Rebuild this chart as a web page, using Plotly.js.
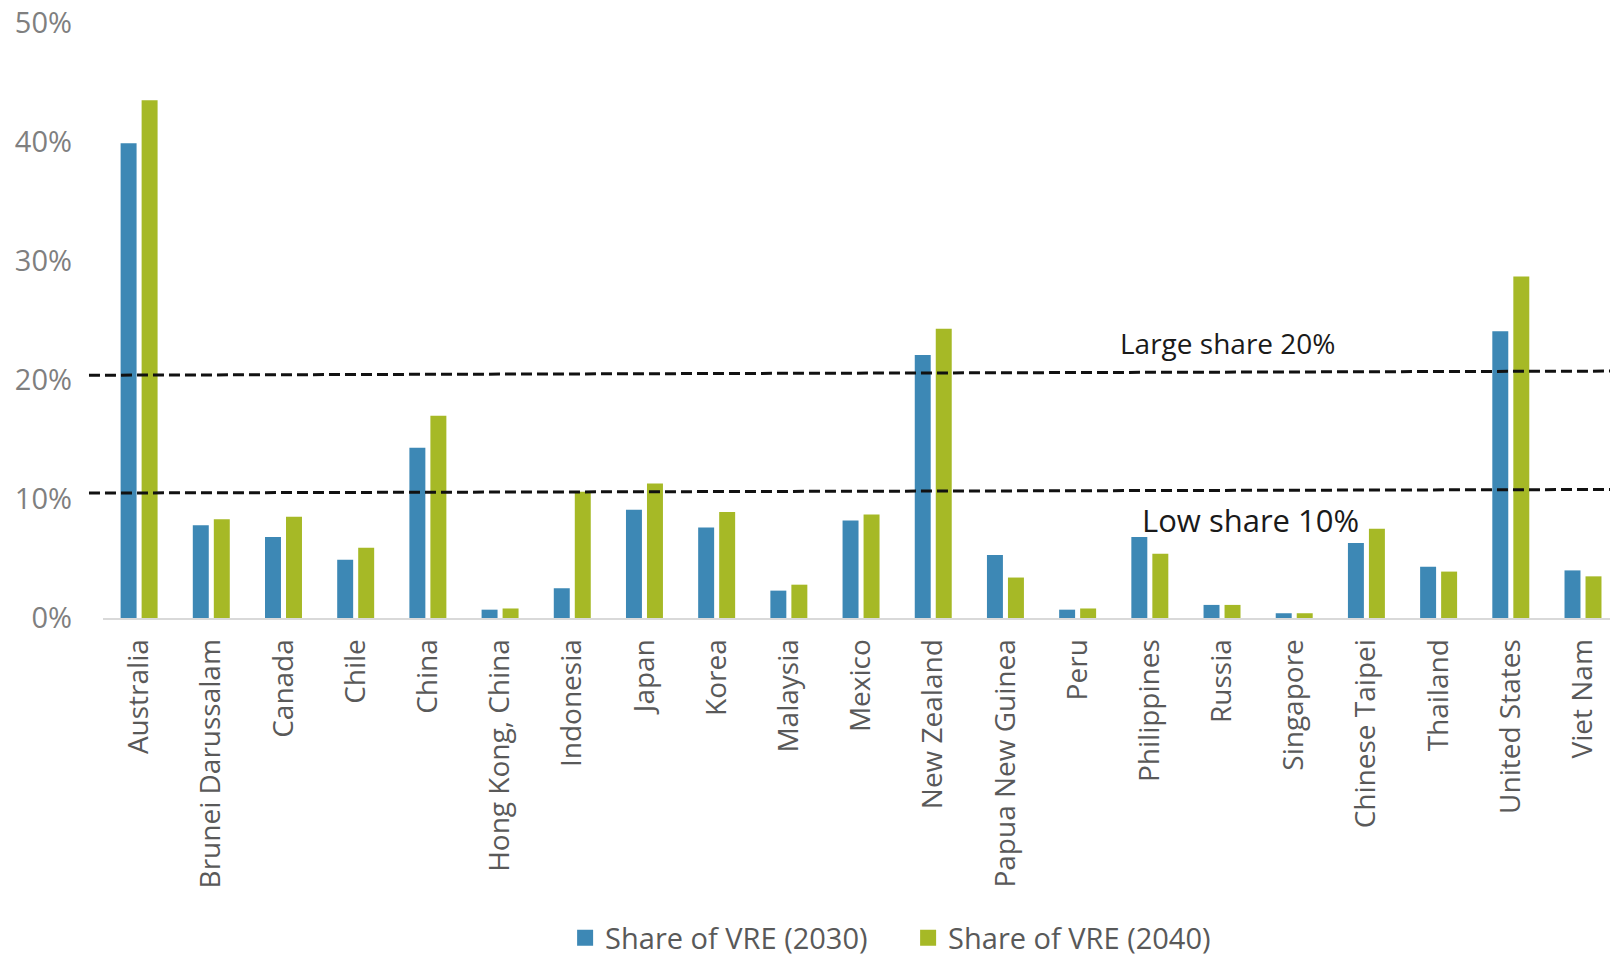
<!DOCTYPE html>
<html>
<head>
<meta charset="utf-8">
<script src="https://cdn.plot.ly/plotly-3.0.1.min.js"></script>
<style>html,body{margin:0;padding:0;background:#fff;}#chart{width:1610px;height:961px;}</style>
</head>
<body>
<div id="chart"></div>
<script>
var categories = ['Australia','Brunei Darussalam','Canada','Chile','China','Hong Kong, China','Indonesia','Japan','Korea','Malaysia','Mexico','New Zealand','Papua New Guinea','Peru','Philippines','Russia','Singapore','Chinese Taipei','Thailand','United States','Viet Nam'];
var share2030 = [39.9, 7.8, 6.8, 4.9, 14.3, 0.7, 2.5, 9.1, 7.6, 2.3, 8.2, 22.1, 5.3, 0.7, 6.8, 1.1, 0.4, 6.3, 4.3, 24.1, 4.0];
var share2040 = [43.5, 8.3, 8.5, 5.9, 17.0, 0.8, 10.6, 11.3, 8.9, 2.8, 8.7, 24.3, 3.4, 0.8, 5.4, 1.1, 0.4, 7.5, 3.9, 28.7, 3.5];
var seriesNames = ['Share of VRE (2030)', 'Share of VRE (2040)'];
var yTickVals = [0, 10, 20, 30, 40, 50];
var yTickText = ['0%', '10%', '20%', '30%', '40%', '50%'];
var thresholdLabels = ['Large share 20%', 'Low share 10%'];
var thresholdStart = [20.4, 10.5];
var thresholdEnd = [20.75, 10.8];

var blue = '#3d88b5';
var green = '#a6b926';
var font = 'Open Sans, sans-serif';

var traces = [
  {type:'bar', x:categories, y:share2030, name:seriesNames[0], marker:{color:blue}, showlegend:false, hoverinfo:'x+y'},
  {type:'bar', x:categories, y:share2040, name:seriesNames[1], marker:{color:green}, showlegend:false, hoverinfo:'x+y'},
  {type:'scatter', mode:'markers', x:[null], y:[null], name:seriesNames[0], marker:{symbol:'square', size:16, color:blue}, showlegend:true},
  {type:'scatter', mode:'markers', x:[null], y:[null], name:seriesNames[1], marker:{symbol:'square', size:16, color:green}, showlegend:true}
];

var shapes = thresholdLabels.map(function(t, i){
  return {type:'line', xref:'paper', yref:'y', x0:-0.0093, x1:1, y0:thresholdStart[i], y1:thresholdEnd[i],
    line:{color:'#111', width:3, dash:'11px,5px'}};
});

var annotations = [
  {text:thresholdLabels[0], xref:'x', yref:'y', x:15.08, y:23.1, showarrow:false, font:{family:font, size:28, color:'#1a1a1a'}},
  {text:thresholdLabels[1], xref:'x', yref:'y', x:15.39, y:8.2, showarrow:false, font:{family:font, size:31, color:'#1a1a1a'}}
];

var layout = {
  width:1610, height:961,
  margin:{l:103, r:0, t:23, b:343},
  paper_bgcolor:'#fff', plot_bgcolor:'#fff',
  barmode:'group', bargap:0.418, bargroupgap:0.24,
  font:{family:font},
  xaxis:{type:'category', range:[-0.5, 20.374], tickangle:-90, ticks:'', showgrid:false, zeroline:false,
    showline:true, linecolor:'#d9d9d9', linewidth:2,
    tickfont:{family:font, size:28, color:'#595959'}, ticklabelstandoff:8},
  yaxis:{range:[0,50], tickvals:yTickVals, ticktext:yTickText, showgrid:false, zeroline:false, showline:false, ticks:'',
    tickfont:{family:font, size:29, color:'#7f7f7f'}, ticklabelstandoff:30},
  showlegend:true,
  legend:{orientation:'h', xref:'container', yref:'container', x:0.351, xanchor:'left', y:0.024, yanchor:'middle',
    font:{family:font, size:29, color:'#595959'}, entrywidth:298, bgcolor:'rgba(0,0,0,0)', borderwidth:0},
  shapes:shapes,
  annotations:annotations
};

Plotly.newPlot('chart', traces, layout, {displayModeBar:false, staticPlot:true});
</script>
</body>
</html>
